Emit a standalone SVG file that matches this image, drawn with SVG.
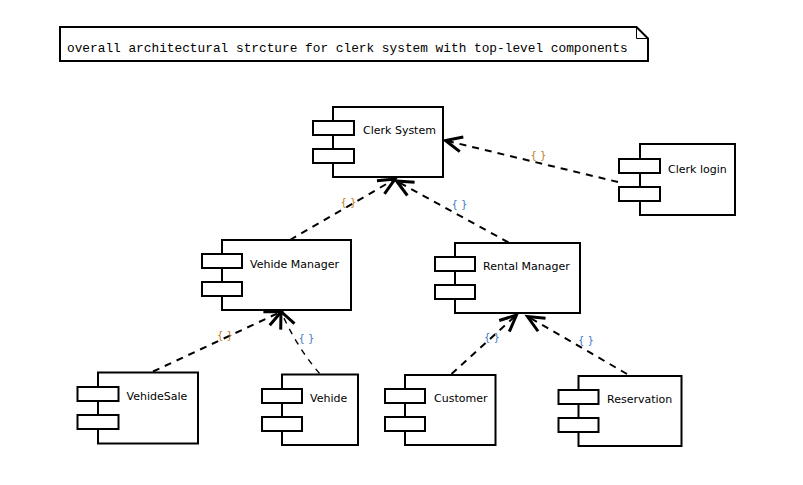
<svg xmlns="http://www.w3.org/2000/svg" width="803" height="485" viewBox="0 0 803 485">
<style>
.box{fill:#fff;stroke:#000;stroke-width:2}
.lbl{font-family:"DejaVu Sans","Liberation Sans",sans-serif;font-size:11px;fill:#000}
.dep{fill:none;stroke:#000;stroke-width:2;stroke-dasharray:7 6;marker-end:url(#open)}
.thin{stroke-width:1.4;stroke-dasharray:6 6}
.brc{font-family:"DejaVu Sans","Liberation Sans",sans-serif;font-size:10px;text-anchor:middle}
.o{fill:#c07a20}
.b{fill:#3a78c0}
</style>
<defs>
<marker id="open" markerUnits="userSpaceOnUse" markerWidth="30" markerHeight="30" refX="0" refY="0" viewBox="-16 -10 20 20" orient="auto">
<path d="M-11,-5 L0,0 L-11,5" fill="none" stroke="#000" stroke-width="2" stroke-dasharray="none"/>
</marker>
</defs>
<rect width="803" height="485" fill="#fff"/>
<g id="note">
<path d="M60,27 L636.5,27 L648,38.5 L648,61 L60,61 Z" fill="#fff" stroke="#000" stroke-width="2"/>
<path d="M636.5,27 L636.5,38.5 L648,38.5" fill="none" stroke="#000" stroke-width="1"/>
<text x="67" y="51.5" font-family="'Liberation Mono','Courier New',monospace" font-size="12.8px" fill="#000">overall architectural strcture for clerk system with top-level components</text>
</g>
<g id="connectors">
<line class="dep" x1="618" y1="182" x2="445.5" y2="140.5"/>
<text class="brc o" x="538.5" y="159">{ }</text>
<line class="dep" x1="290" y1="240" x2="395" y2="179"/>
<text class="brc o" x="348.5" y="205.5">{ }</text>
<line class="dep" x1="508.5" y1="242.5" x2="396.5" y2="181"/>
<text class="brc b" x="459.5" y="208">{ }</text>
<line class="dep" x1="153" y1="371.5" x2="281.5" y2="311.5"/>
<text class="brc o" x="225" y="339">{ }</text>
<path class="dep thin" d="M319.5,373.5 Q296,346 281,311.5"/>
<text class="brc b" x="306.5" y="342">{ }</text>
<line class="dep" x1="451.5" y1="374" x2="516.5" y2="315"/>
<text class="brc b" x="492" y="340.5">{ }</text>
<line class="dep" x1="627" y1="374" x2="527.5" y2="316.5"/>
<text class="brc b" x="586" y="344">{ }</text>
</g>
<g id="clerk-system">
<rect class="box" x="333" y="107" width="110" height="70"/>
<rect class="box" x="313" y="121" width="41" height="14"/>
<rect class="box" x="313" y="149" width="41" height="14"/>
<text class="lbl" x="363" y="133.5">Clerk System</text>
</g>
<g id="clerk-login">
<rect class="box" x="640" y="144" width="95" height="71"/>
<rect class="box" x="619" y="159" width="41" height="14"/>
<rect class="box" x="619" y="187" width="41" height="14"/>
<text class="lbl" x="668" y="172.5">Clerk login</text>
</g>
<g id="vehide-manager">
<rect class="box" x="222" y="240" width="129" height="70"/>
<rect class="box" x="202" y="254" width="40" height="14"/>
<rect class="box" x="202" y="282" width="40" height="14"/>
<text class="lbl" x="250" y="267.5">Vehide Manager</text>
</g>
<g id="rental-manager">
<rect class="box" x="455" y="243" width="125" height="70"/>
<rect class="box" x="435" y="257" width="40" height="14"/>
<rect class="box" x="435" y="285" width="40" height="14"/>
<text class="lbl" x="483" y="269.5">Rental Manager</text>
</g>
<g id="vehidesale">
<rect class="box" x="98" y="372.5" width="100" height="71"/>
<rect class="box" x="77.5" y="387" width="41" height="14"/>
<rect class="box" x="77.5" y="415" width="41" height="14"/>
<text class="lbl" x="126.5" y="400">VehideSale</text>
</g>
<g id="vehide">
<rect class="box" x="282" y="374.5" width="76" height="70.5"/>
<rect class="box" x="262" y="389" width="40" height="14"/>
<rect class="box" x="262" y="417" width="40" height="14"/>
<text class="lbl" x="310" y="401.5">Vehide</text>
</g>
<g id="customer">
<rect class="box" x="405" y="375" width="90.5" height="70"/>
<rect class="box" x="385" y="389" width="40" height="14"/>
<rect class="box" x="385" y="417" width="40" height="14"/>
<text class="lbl" x="434" y="402">Customer</text>
</g>
<g id="reservation">
<rect class="box" x="578.5" y="376" width="103" height="70"/>
<rect class="box" x="558.5" y="390" width="40" height="14"/>
<rect class="box" x="558.5" y="418" width="40" height="14"/>
<text class="lbl" x="607" y="403">Reservation</text>
</g>
</svg>
